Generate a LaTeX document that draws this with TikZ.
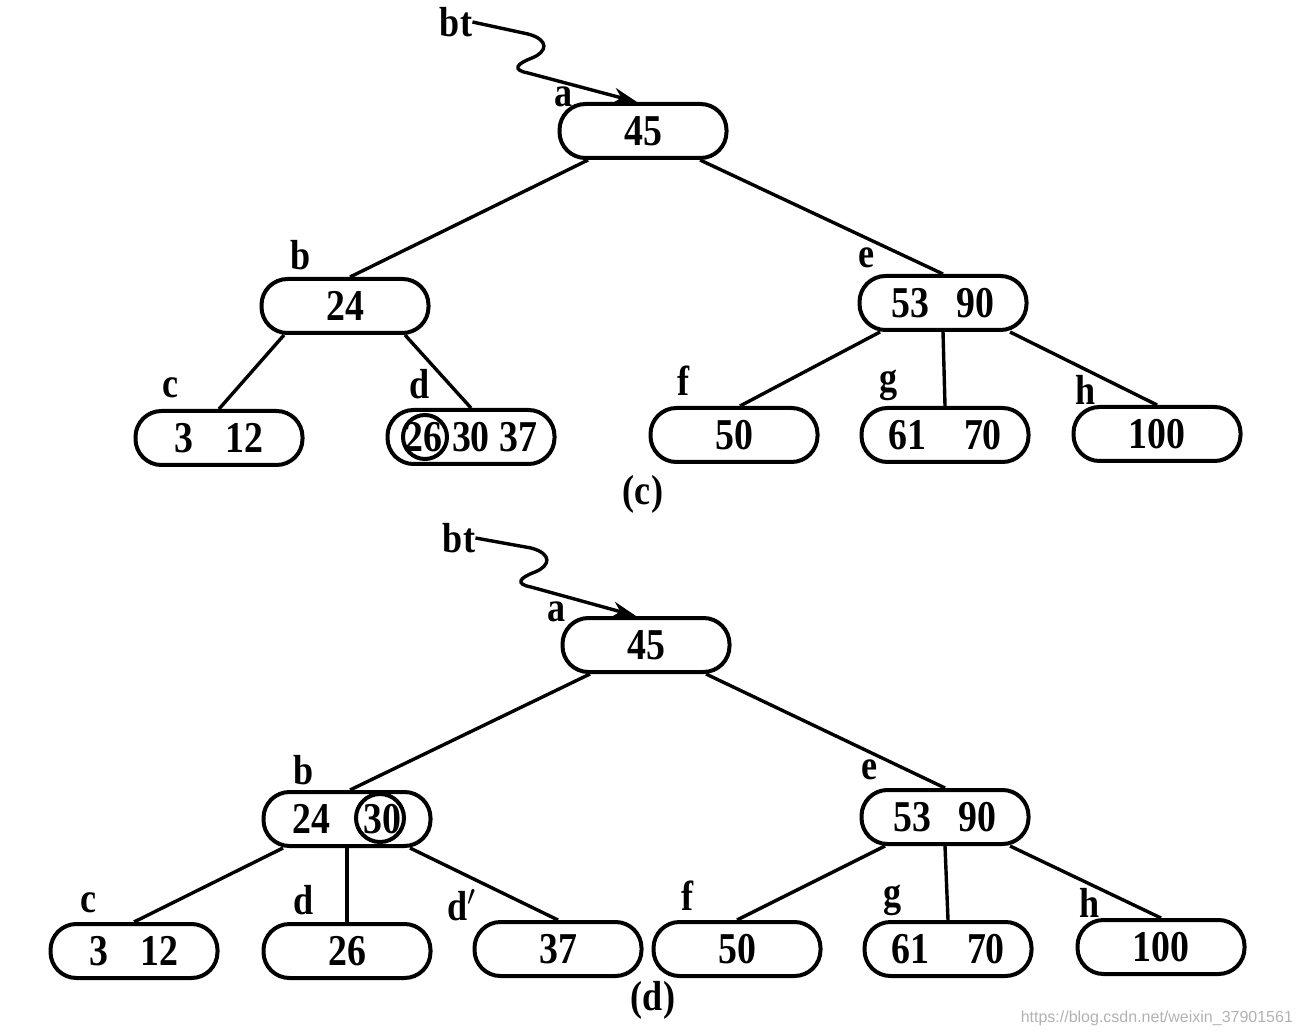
\documentclass[tikz,border=0pt]{standalone}
\usepackage{fontspec}
\setmainfont[FakeStretch=0.86]{Liberation Serif}
\newfontfamily\wmfont{Liberation Sans}
\usepackage{tikz}
\usetikzlibrary{arrows.meta,calc}
\tikzset{
  key/.style={draw, line width=2pt, rounded corners=13pt, minimum width=83.5pt,
    minimum height=27pt, inner sep=0pt, font=\fontsize{22}{22}\selectfont\bfseries},
  tag/.style={inner sep=0pt, font=\fontsize{21}{21}\selectfont\bfseries},
  ring/.style={draw, circle, line width=2pt, minimum size=22pt, inner sep=0pt},
  link/.style={line width=1.7pt},
  wave/.style={line width=1.7pt, -{Stealth[length=12pt,width=8pt]}}
}

\begin{document}
\begin{tikzpicture}[x=0.5pt, y=-0.5pt]
            \useasboundingbox (0,0) rectangle (1304,1036);
            % Arbol (c)
            \node[key] (ca) at (643,131) {45};
            \node[key] (cb) at (345,306) {24};
            \node[key] (ce) at (943,303) {53\hspace{14pt}90};
            \node[key] (cc) at (219,438) {3\hspace{16pt}12};
            \node[key] (cd) at (471,437) {26\hspace{5pt}30\hspace{5pt}37};
            \node[key] (cf) at (734,435) {50};
            \node[key] (cg) at (945,435) {61\hspace{19pt}70};
            \node[key] (ch) at (1157,434) {100};
            \node[ring] (cr) at (425,437) {};
            \node[tag] (cbt) at (456,22) {bt};
            \node[tag] (cla) at (564,97) {a};
            \node[tag] (clb) at (301,255) {b};
            \node[tag] (cle) at (866,258) {e};
            \node[tag] (clc) at (171,388) {c};
            \node[tag] (cld) at (420,384) {d};
            \node[tag] (clf) at (684,381) {f};
            \node[tag] (clg) at (889,385) {g};
            \node[tag] (clh) at (1086,390) {h};
            \node[tag] (ccap) at (643,494) {(c)};
            \draw[wave] (cbt.east) -- (528,34) .. controls (550,40) and (547,52) .. (532,58)
                .. controls (516,64) and (512,70) .. (528,73) -- ([xshift=-3pt]ca.north);
            \draw[link] ($(ca.south)+(-55,0)$) -- ($(cb.north)+(5,0)$);
            \draw[link] ($(ca.south)+(57,0)$) -- (ce.north);
            \draw[link] ($(cb.south)+(-61,0)$) -- (cc.north);
            \draw[link] ($(cb.south)+(60,0)$) -- (cd.north);
            \draw[link] ($(ce.south)+(-63,0)$) -- ($(cf.north)+(6,0)$);
            \draw[link] (ce.south) -- (cg.north);
            \draw[link] ($(ce.south)+(67,0)$) -- (ch.north);
            % Arbol (d)
            \node[key] (da) at (646,645) {45};
            \node[key] (db) at (347,819) {24\hspace{17pt}30};
            \node[key] (de) at (945,817) {53\hspace{14pt}90};
            \node[key] (dc) at (134,951) {3\hspace{16pt}12};
            \node[key] (dd) at (347,951) {26};
            \node[key] (dd2) at (558,949) {37};
            \node[key] (df) at (737,949) {50};
            \node[key] (dg) at (948,949) {61\hspace{19pt}70};
            \node[key] (dh) at (1161,947) {100};
            \node[ring, minimum size=24pt] (dr) at (380,818) {};
            \node[tag] (dbt) at (459,538) {bt};
            \node[tag] (dla) at (557,612) {a};
            \node[tag] (dlb) at (304,770) {b};
            \node[tag] (dle) at (870,770) {e};
            \node[tag] (dlc) at (89,903) {c};
            \node[tag] (dld) at (304,900) {d};
            \node[tag] (dld2) at (462,905) {d$'$};
            \node[tag] (dlf) at (688,896) {f};
            \node[tag] (dlg) at (893,900) {g};
            \node[tag] (dlh) at (1090,903) {h};
            \node[tag] (dcap) at (653,1000) {(d)};
            \draw[wave] (dbt.east) -- (531,548) .. controls (553,554) and (550,566) .. (535,572)
                .. controls (519,578) and (515,584) .. (531,587) -- ([xshift=-5pt]da.north);
            \draw[link] ($(da.south)+(-56,0)$) -- ($(db.north)+(3,0)$);
            \draw[link] ($(da.south)+(60,0)$) -- (de.north);
            \draw[link] ($(db.south)+(-64,0)$) -- (dc.north);
            \draw[link] (db.south) -- (dd.north);
            \draw[link] ($(db.south)+(63,0)$) -- (dd2.north);
            \draw[link] ($(de.south)+(-60,0)$) -- (df.north);
            \draw[link] (de.south) -- (dg.north);
            \draw[link] ($(de.south)+(65,0)$) -- (dh.north);
            \node[font=\wmfont\fontsize{8}{8}\selectfont, text=gray!60, anchor=east] (wm) at (1300,1018) {https://blog.csdn.net/weixin\_37901561};
       \end{tikzpicture}
\end{document}
